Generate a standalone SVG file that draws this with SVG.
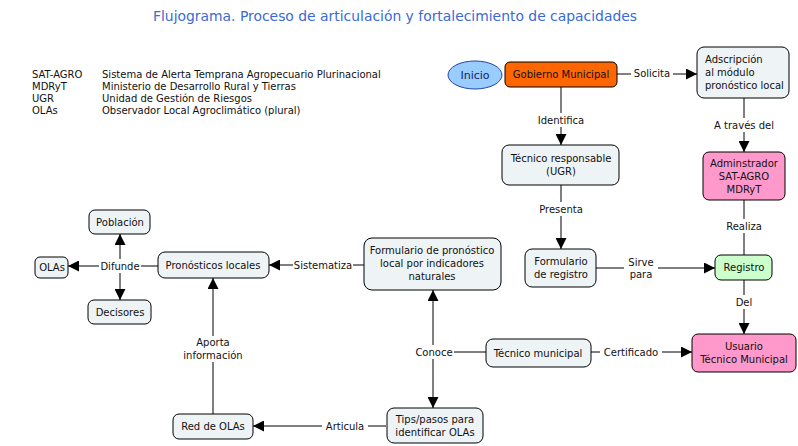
<svg xmlns="http://www.w3.org/2000/svg" width="798" height="446" viewBox="0 0 798 446">
<defs>
<marker id="arr" viewBox="0 0 10 10" refX="10" refY="5" markerWidth="11" markerHeight="11" markerUnits="userSpaceOnUse" orient="auto">
<path d="M0,0 L10,5 L0,10 Z" fill="#000"/>
</marker>
</defs>
<style>
text{font-family:"DejaVu Sans",Verdana,sans-serif;font-size:10px;fill:#111}
.t{text-anchor:middle}
.n{fill:#eef3f5;stroke:#000;stroke-width:1}
.c line,.c path{stroke:#000;stroke-width:1;fill:none}
.lb{fill:#fff}
.title{font-size:13.9px;fill:#3a6ad4}
.leg{font-size:10px}
</style>
<rect width="798" height="446" fill="#fff"/>
<text class="title t" x="395" y="21">Flujograma. Proceso de articulación y fortalecimiento de capacidades</text>
<g id="legend">
<text class="leg" x="32" y="78">SAT-AGRO</text><text class="leg" x="102" y="78">Sistema de Alerta Temprana Agropecuario Plurinacional</text>
<text class="leg" x="32" y="90">MDRyT</text><text class="leg" x="102" y="90">Ministerio de Desarrollo Rural y Tierras</text>
<text class="leg" x="32" y="102">UGR</text><text class="leg" x="102" y="102">Unidad de Gestión de Riesgos</text>
<text class="leg" x="32" y="114">OLAs</text><text class="leg" x="102" y="114">Observador Local Agroclimático (plural)</text>
</g>
<g class="c" id="connectors">
<line x1="617" y1="74" x2="697" y2="74" marker-end="url(#arr)"/>
<line x1="561" y1="87" x2="561" y2="145" marker-end="url(#arr)"/>
<line x1="744" y1="98" x2="744" y2="152" marker-end="url(#arr)"/>
<line x1="561" y1="185" x2="561" y2="249" marker-end="url(#arr)"/>
<line x1="744" y1="200" x2="744" y2="255"/>
<line x1="596" y1="268" x2="715" y2="268" marker-end="url(#arr)"/>
<line x1="744" y1="280" x2="744" y2="334" marker-end="url(#arr)"/>
<line x1="591" y1="352" x2="692" y2="352" marker-end="url(#arr)"/>
<line x1="486" y1="352" x2="433" y2="352"/>
<line x1="433" y1="352" x2="433" y2="290" marker-end="url(#arr)"/>
<line x1="433" y1="352" x2="433" y2="408" marker-end="url(#arr)"/>
<line x1="364" y1="265" x2="269" y2="265" marker-end="url(#arr)"/>
<line x1="386" y1="426" x2="253" y2="426" marker-end="url(#arr)"/>
<line x1="213" y1="414" x2="213" y2="278" marker-end="url(#arr)"/>
<line x1="158" y1="266" x2="68" y2="266" marker-end="url(#arr)"/>
<line x1="120" y1="266" x2="120" y2="234" marker-end="url(#arr)"/>
<line x1="120" y1="266" x2="120" y2="300" marker-end="url(#arr)"/>
<rect class="lb" x="631" y="66" width="42" height="14"/><text class="t" x="652" y="77">Solicita</text>
<rect class="lb" x="535" y="113" width="52" height="14"/><text class="t" x="561" y="124">Identifica</text>
<rect class="lb" x="711" y="118" width="66" height="14"/><text class="t" x="744" y="129">A través del</text>
<rect class="lb" x="538" y="202" width="46" height="14"/><text class="t" x="561" y="213">Presenta</text>
<rect class="lb" x="723" y="219" width="42" height="14"/><text class="t" x="744" y="230">Realiza</text>
<rect class="lb" x="624" y="256" width="34" height="26"/><text class="t" x="641" y="266">Sirve</text><text class="t" x="641" y="278">para</text>
<rect class="lb" x="733" y="295" width="22" height="14"/><text class="t" x="744" y="306">Del</text>
<rect class="lb" x="600" y="345" width="62" height="14"/><text class="t" x="631" y="356">Certificado</text>
<rect class="lb" x="414" y="345" width="40" height="14"/><text class="t" x="434" y="356">Conoce</text>
<rect class="lb" x="293" y="258" width="60" height="14"/><text class="t" x="323" y="269">Sistematiza</text>
<rect class="lb" x="322" y="419" width="46" height="14"/><text class="t" x="345" y="430">Articula</text>
<rect class="lb" x="180" y="336" width="66" height="26"/><text class="t" x="213" y="346">Aporta</text><text class="t" x="213" y="359">información</text>
<rect class="lb" x="99" y="259" width="42" height="14"/><text class="t" x="120" y="270">Difunde</text>
</g>
<g id="inicio"><ellipse cx="475" cy="75" rx="27" ry="14" fill="#99ccff" stroke="#2244aa"/><text class="t" x="475" y="79" style="font-size:11px;fill:#112266">Inicio</text></g>
<g id="gobierno"><rect x="505" y="62" width="112" height="25" rx="5" fill="#ff6600" stroke="#000"/><text class="t" x="561" y="78">Gobierno Municipal</text></g>
<g id="adscripcion"><rect class="n" x="697" y="47" width="92" height="51" rx="7"/><text x="705" y="63">Adscripción</text><text x="705" y="76">al módulo</text><text x="705" y="89">pronóstico local</text></g>
<g id="tecnico-resp"><rect class="n" x="502" y="145" width="117" height="40" rx="7"/><text class="t" x="561" y="162">Técnico responsable</text><text class="t" x="561" y="175">(UGR)</text></g>
<g id="admin"><rect x="703" y="152" width="82" height="48" rx="6" fill="#ff99cc" stroke="#000"/><text class="t" x="744" y="167">Adminstrador</text><text class="t" x="744" y="180">SAT-AGRO</text><text class="t" x="744" y="193">MDRyT</text></g>
<g id="form-registro"><rect class="n" x="525" y="249" width="71" height="38" rx="7"/><text class="t" x="561" y="265">Formulario</text><text class="t" x="561" y="278">de registro</text></g>
<g id="registro"><rect x="715" y="255" width="57" height="25" rx="6" fill="#ccffcc" stroke="#000"/><text class="t" x="744" y="271">Registro</text></g>
<g id="usuario"><rect x="692" y="334" width="104" height="38" rx="6" fill="#ff99cc" stroke="#000"/><text class="t" x="744" y="350">Usuario</text><text class="t" x="744" y="363">Técnico Municipal</text></g>
<g id="tecnico-mun"><rect class="n" x="486" y="339" width="105" height="28" rx="7"/><text class="t" x="538" y="357">Técnico municipal</text></g>
<g id="form-pronostico"><rect class="n" x="364" y="238" width="137" height="52" rx="8"/><text class="t" x="432" y="254">Formulario de pronóstico</text><text class="t" x="432" y="267">local por indicadores</text><text class="t" x="432" y="280">naturales</text></g>
<g id="tips"><rect class="n" x="387" y="408" width="96" height="35" rx="7"/><text class="t" x="435" y="423">Tips/pasos para</text><text class="t" x="435" y="436">identificar OLAs</text></g>
<g id="red-olas"><rect class="n" x="173" y="414" width="80" height="25" rx="6"/><text class="t" x="213" y="430">Red de OLAs</text></g>
<g id="pronosticos"><rect class="n" x="158" y="252" width="111" height="26" rx="7"/><text class="t" x="213" y="269">Pronósticos locales</text></g>
<g id="olas"><rect class="n" x="35" y="257" width="33" height="21" rx="5"/><text class="t" x="52" y="271">OLAs</text></g>
<g id="poblacion"><rect class="n" x="89" y="210" width="61" height="24" rx="6"/><text class="t" x="120" y="226">Población</text></g>
<g id="decisores"><rect class="n" x="88" y="300" width="63" height="24" rx="6"/><text class="t" x="120" y="316">Decisores</text></g>
</svg>
